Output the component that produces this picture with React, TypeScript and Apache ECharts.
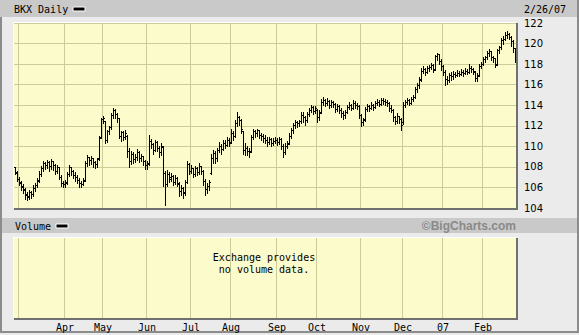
import React, { useEffect, useRef } from "react";
import * as echarts from "echarts";

// ---- Data (BKX daily OHLC, Feb 27 2006 .. Feb 26 2007) ----
const opens = [
  107.9,107.4,106.8,106.4,106.1,105.8,105.2,105.1,105.5,105.3,
  105.9,106.2,106.7,107.3,107.8,108.3,108.1,108.4,108.0,108.5,
  108.1,107.6,107.9,107.0,106.4,106.3,106.5,107.3,107.9,107.6,
  107.2,107.0,106.7,106.4,106.3,106.7,108.3,108.9,108.6,108.8,
  108.4,108.2,108.8,110.9,112.6,112.4,110.6,111.4,111.8,113.0,
  113.5,113.1,112.7,111.0,111.3,110.9,111.0,109.5,108.5,109.2,
  108.7,108.9,109.4,108.8,109.0,108.5,108.1,108.3,110.5,110.2,
  109.6,110.4,109.8,109.4,109.9,107.4,106.3,107.3,107.0,107.1,
  106.5,106.9,106.3,105.6,105.9,105.5,106.5,108.2,107.6,107.8,
  107.3,107.8,107.5,108.0,107.6,106.6,105.8,106.1,107.4,108.8,
  109.3,108.8,109.6,110.0,109.7,110.3,110.1,110.6,110.4,111.2,
  111.0,112.2,112.8,112.5,111.4,109.6,109.8,109.5,109.5,110.9,
  111.4,111.2,111.5,111.1,111.0,110.8,110.6,110.4,110.7,110.3,
  110.5,110.6,110.4,110.7,110.0,109.4,110.0,110.3,111.0,111.5,
  112.0,112.3,112.2,112.4,113.0,112.8,112.5,113.1,113.5,113.8,
  113.4,113.5,112.8,113.3,114.3,114.5,114.2,114.4,114.0,114.3,
  114.1,113.6,113.9,113.5,113.2,113.0,113.3,113.8,114.0,113.7,
  114.2,114.0,113.9,113.0,112.3,112.6,113.6,113.9,113.7,114.0,
  113.8,114.2,114.3,114.1,114.5,114.4,114.3,114.2,113.7,113.5,
  112.8,112.4,112.9,112.6,112.3,114.0,114.3,114.5,114.2,114.6,
  114.8,115.5,115.9,116.5,117.3,117.5,117.2,117.6,117.7,117.9,
  117.5,118.7,118.9,118.3,117.8,117.2,116.5,116.4,116.9,116.8,
  117.0,116.9,117.1,117.0,117.2,117.1,117.3,117.2,117.6,117.5,
  117.2,116.6,116.9,117.8,118.0,118.4,118.6,119.0,119.2,118.6,
  118.5,118.0,119.3,119.6,120.3,120.4,120.8,120.9,120.6,120.2,
  119.5,
];
const highs = [
  108.0,107.6,107.0,106.6,106.3,105.9,105.6,105.8,105.7,106.2,
  106.4,106.9,107.6,108.1,108.6,108.5,108.7,108.6,108.8,108.6,
  108.3,108.2,108.0,107.2,106.6,106.7,107.5,108.2,108.0,107.7,
  107.5,107.2,106.9,106.6,106.9,108.6,109.2,109.0,109.1,108.9,
  108.6,108.9,111.0,112.8,113.0,112.5,111.6,112.0,113.2,113.7,
  113.6,113.2,112.8,111.5,111.5,111.6,111.1,109.8,109.5,109.4,
  109.3,109.7,109.5,109.3,109.1,108.7,108.6,111.1,110.7,110.3,
  110.6,110.5,110.0,110.3,110.0,107.6,107.7,107.5,107.4,107.2,
  107.2,107.0,106.5,106.2,106.0,106.7,108.6,108.4,108.2,107.9,
  108.1,108.0,108.4,108.1,107.7,106.8,106.4,106.7,109.3,109.6,
  109.5,109.8,110.4,110.2,110.6,110.6,110.9,110.8,111.7,111.5,
  112.6,113.3,113.0,112.7,111.5,110.3,110.0,109.8,111.1,111.7,
  111.6,111.7,111.6,111.3,111.2,111.1,110.9,110.9,110.8,110.8,
  110.9,110.8,110.9,110.8,110.2,110.3,110.5,111.3,111.8,112.3,
  112.6,112.5,112.6,113.3,113.3,113.0,113.3,113.7,114.0,113.9,
  113.9,113.6,113.5,114.6,114.8,114.6,114.7,114.5,114.5,114.4,
  114.2,114.1,114.0,113.7,113.4,113.5,114.0,114.3,114.1,114.5,
  114.4,114.2,114.0,113.1,112.8,113.8,114.1,114.0,114.3,114.1,
  114.4,114.6,114.5,114.7,114.7,114.6,114.5,114.3,114.0,113.6,
  113.0,113.2,113.0,112.8,114.3,114.5,114.7,114.6,114.8,115.0,
  115.8,116.2,116.7,117.6,117.8,117.6,117.8,117.9,118.1,118.0,
  118.9,119.1,119.0,118.5,117.9,117.4,116.8,117.1,117.2,117.3,
  117.2,117.4,117.3,117.5,117.4,117.6,117.5,118.0,117.8,117.6,
  117.3,117.1,118.0,118.2,118.7,118.8,119.3,119.5,119.3,118.8,
  118.6,119.5,119.8,120.5,120.7,121.1,121.2,121.0,120.7,120.3,
  119.6,
];
const lows = [
  107.3,106.6,106.2,105.8,105.5,104.9,104.8,104.9,105.0,105.2,
  105.7,106.0,106.5,107.1,107.6,107.8,107.9,107.6,107.8,107.7,
  107.3,107.4,106.8,106.1,106.0,106.0,106.3,107.1,107.2,106.9,
  106.6,106.4,106.0,106.0,106.2,106.6,108.1,108.2,108.3,108.0,
  107.9,108.0,108.7,110.8,112.3,110.3,110.4,111.2,111.7,112.8,
  112.8,112.4,110.8,110.5,110.6,110.7,109.0,108.0,108.3,108.4,
  108.5,108.7,108.5,108.6,108.2,107.8,107.8,108.2,109.8,109.3,
  109.5,109.5,109.0,109.2,106.1,104.3,106.1,106.5,106.6,106.2,
  106.3,106.1,105.2,105.3,105.0,105.3,106.4,107.3,107.4,107.0,
  107.1,107.2,107.3,107.3,106.2,105.3,105.5,105.8,107.3,108.4,
  108.4,108.6,109.4,109.3,109.6,109.8,110.0,110.0,110.3,110.6,
  110.9,112.0,112.1,111.3,109.3,109.2,109.2,109.0,109.4,110.7,
  110.9,111.0,110.8,110.6,110.4,110.3,110.0,110.2,110.0,110.1,
  110.3,110.1,110.2,109.7,109.0,109.3,109.8,110.2,110.8,111.3,
  111.8,111.9,112.0,112.3,112.4,112.1,112.4,113.0,113.3,113.1,
  113.2,112.4,112.6,113.2,114.0,113.9,114.0,113.7,113.8,113.8,
  113.3,113.4,113.2,112.9,112.7,112.8,113.2,113.6,113.5,113.6,
  113.7,113.6,112.8,112.0,112.1,112.5,113.4,113.4,113.6,113.5,
  113.7,114.0,113.9,114.0,114.1,114.0,113.9,113.4,113.3,112.5,
  112.2,112.3,112.3,111.6,112.2,113.8,114.1,114.0,114.1,114.4,
  114.7,115.3,115.7,116.4,117.1,116.9,117.1,117.3,117.5,117.2,
  117.4,118.4,118.0,117.4,116.9,116.0,116.1,116.3,116.5,116.6,
  116.7,116.8,116.8,116.9,116.8,117.0,117.0,117.1,117.2,117.0,
  116.4,116.4,116.8,117.6,117.9,118.2,118.5,118.8,118.4,118.2,
  117.7,117.9,119.1,119.5,120.0,120.3,120.5,120.4,119.8,119.2,
  118.2,
];
const closes = [
  107.5,106.8,106.5,106.0,105.7,105.3,105.0,105.5,105.3,105.9,
  106.2,106.6,107.3,107.8,108.3,108.1,108.4,108.0,108.5,108.1,
  107.6,107.9,107.0,106.4,106.3,106.4,107.3,107.9,107.6,107.2,
  107.0,106.7,106.4,106.3,106.6,108.3,108.9,108.6,108.8,108.4,
  108.2,108.7,110.8,112.6,112.7,110.6,111.4,111.8,113.0,113.5,
  113.1,112.7,111.0,111.3,110.9,111.2,109.5,108.5,109.2,108.7,
  108.9,109.4,108.8,109.0,108.5,108.1,108.2,110.5,110.2,109.6,
  110.4,109.8,109.4,110.0,107.4,106.3,107.3,106.8,107.1,106.5,
  106.9,106.4,105.6,105.9,105.4,106.5,108.2,107.6,107.8,107.3,
  107.8,107.5,108.0,107.6,106.6,105.8,106.1,106.5,108.8,109.3,
  108.8,109.6,110.0,109.7,110.3,110.1,110.6,110.3,111.2,111.0,
  112.2,112.8,112.5,111.6,109.6,109.8,109.5,109.4,110.9,111.4,
  111.2,111.5,111.1,111.0,110.8,110.6,110.4,110.7,110.3,110.5,
  110.6,110.4,110.7,110.0,109.4,110.0,110.2,111.0,111.5,112.0,
  112.3,112.2,112.4,113.0,112.8,112.5,113.1,113.5,113.8,113.4,
  113.7,112.8,113.2,114.3,114.5,114.2,114.4,114.0,114.3,114.1,
  113.6,113.9,113.5,113.2,113.0,113.3,113.8,114.0,113.7,114.2,
  114.0,113.9,113.0,112.3,112.5,113.6,113.9,113.7,114.0,113.8,
  114.2,114.3,114.1,114.5,114.4,114.3,114.2,113.7,113.5,112.8,
  112.4,112.9,112.6,112.0,114.0,114.3,114.5,114.2,114.6,114.8,
  115.5,115.9,116.4,117.3,117.5,117.2,117.6,117.7,117.9,117.4,
  118.7,118.9,118.3,117.8,117.2,116.5,116.4,116.9,116.8,117.0,
  116.9,117.1,117.0,117.2,117.1,117.3,117.2,117.6,117.5,117.3,
  116.6,116.8,117.8,118.0,118.4,118.6,119.0,119.2,118.6,118.5,
  117.9,119.3,119.6,120.3,120.4,120.8,120.9,120.6,120.2,119.5,
  118.4,
];

// trading calendar
const firstDay = "2006-02-27";
const lastDay = "2007-02-26";
const holidays = [
  "2006-04-14", "2006-05-29", "2006-07-04", "2006-09-04", "2006-11-23",
  "2006-12-25", "2007-01-01", "2007-01-02", "2007-01-15", "2007-02-19",
];
const monthKeys = ["2006-03","2006-04","2006-05","2006-06","2006-07","2006-08","2006-09","2006-10","2006-11","2006-12","2007-01","2007-02"];
const monthLabels = ["", "Apr", "May", "Jun", "Jul", "Aug", "Sep", "Oct", "Nov", "Dec", "07", "Feb"];

// price axis
const priceMin = 104;
const priceMax = 122;
const priceStep = 2;

const headerTitle = "BKX Daily";
const headerDate = "2/26/07";
const volumeTitle = "Volume";
const noVolumeLines = ["Exchange provides", "no volume data."];
const credit = "\u00a9BigCharts.com";

function tradingDays(): string[] {
  const out: string[] = [];
  const d = new Date(firstDay + "T00:00:00Z");
  const end = new Date(lastDay + "T00:00:00Z");
  while (d.getTime() <= end.getTime()) {
    const s = d.toISOString().slice(0, 10);
    const wd = d.getUTCDay();
    if (wd !== 0 && wd !== 6 && holidays.indexOf(s) < 0) out.push(s);
    d.setUTCDate(d.getUTCDate() + 1);
  }
  return out;
}

const mono = "'DejaVu Sans Mono', monospace";
const grid0 = { left: 14, top: 23, width: 502, height: 185 };
const grid1 = { left: 14, top: 238, width: 502, height: 80 };
const GRID_COLOR = "#cccc99";
const PLOT_BG = "#fbfbcc";

export default function App() {
  const ref = useRef<HTMLDivElement>(null);
  useEffect(() => {
    if (!ref.current) return;
    const chart = echarts.init(ref.current, null, { renderer: "svg" });
    const days = tradingDays();
    const isMonthStart = (i: number) =>
      i > 0 && i < days.length && days[i].slice(0, 7) !== days[i - 1].slice(0, 7);
    const labelFor = (v: string) => {
      const k = monthKeys.indexOf(String(v).slice(0, 7));
      return k >= 0 ? monthLabels[k] : "";
    };
    const data = days.map((_, i) => [i, opens[i], highs[i], lows[i], closes[i]]);

    const bevel = (g: { left: number; top: number; width: number; height: number }) => {
      const r = g.left + g.width;
      const b = g.top + g.height;
      return [
        { type: "rect", z: -5, shape: { x: g.left, y: g.top, width: g.width, height: g.height }, style: { fill: PLOT_BG } },
        { type: "line", z: 50, shape: { x1: g.left - 0.5, y1: g.top - 0.5, x2: r, y2: g.top - 0.5 }, style: { stroke: "#ffffff", lineWidth: 1 } },
        { type: "line", z: 50, shape: { x1: g.left - 0.5, y1: g.top - 0.5, x2: g.left - 0.5, y2: b }, style: { stroke: "#ffffff", lineWidth: 1 } },
        { type: "rect", z: 50, shape: { x: g.left, y: b, width: g.width + 2, height: 2 }, style: { fill: "#707070" } },
        { type: "rect", z: 50, shape: { x: r, y: g.top, width: 2, height: g.height + 2 }, style: { fill: "#707070" } },
      ];
    };

    const option: any = {
      animation: false,
      backgroundColor: "#ebebeb",
      grid: [
        { ...grid0, containLabel: false },
        { ...grid1, containLabel: false },
      ],
      xAxis: [
        {
          type: "category", gridIndex: 0, data: days, boundaryGap: true,
          axisLine: { show: false }, axisTick: { show: false }, axisLabel: { show: false },
          splitLine: { show: true, interval: (i: number) => isMonthStart(i), lineStyle: { color: GRID_COLOR, width: 1 } },
        },
        {
          type: "category", gridIndex: 1, data: days, boundaryGap: true,
          axisLine: { show: false }, axisTick: { show: false },
          axisLabel: {
            show: true, interval: (i: number) => isMonthStart(i) && labelFor(days[i]) !== "",
            formatter: (v: string) => labelFor(v), color: "#000", fontFamily: mono, fontSize: 10, margin: 4,
          },
          splitLine: { show: true, interval: (i: number) => isMonthStart(i), lineStyle: { color: GRID_COLOR, width: 1 } },
        },
      ],
      yAxis: [
        {
          type: "value", gridIndex: 0, position: "right", min: priceMin, max: priceMax, interval: priceStep,
          axisLine: { show: false }, axisTick: { show: false },
          axisLabel: { color: "#000", fontFamily: "'DejaVu Sans', sans-serif", fontSize: 10, margin: 8 },
          splitLine: { show: true, lineStyle: { color: GRID_COLOR, width: 1 } },
        },
        {
          type: "value", gridIndex: 1, min: 0, max: 1, show: false, splitLine: { show: false },
        },
      ],
      series: [
        {
          type: "custom", xAxisIndex: 0, yAxisIndex: 0, silent: true,
          encode: { x: 0, y: [1, 2, 3, 4] },
          data,
          renderItem: (_params: any, api: any) => {
            const idx = api.value(0);
            const pO = api.coord([idx, api.value(1)]);
            const yH = api.coord([idx, api.value(2)])[1];
            const yL = api.coord([idx, api.value(3)])[1];
            const yC = api.coord([idx, api.value(4)])[1];
            const px = Math.round(pO[0] - 0.5);
            const vx = px + 0.5;
            const ry = (y: number) => Math.round(y - 0.5) + 0.5;
            const st = { stroke: "#000", lineWidth: 1 };
            return {
              type: "group",
              children: [
                { type: "line", shape: { x1: vx, y1: Math.round(yH), x2: vx, y2: Math.round(yL) + 1 }, style: st },
                { type: "line", shape: { x1: px - 1, y1: ry(pO[1]), x2: px, y2: ry(pO[1]) }, style: st },
                { type: "line", shape: { x1: px + 1, y1: ry(yC), x2: px + 2, y2: ry(yC) }, style: st },
              ],
            };
          },
        },
      ],
      graphic: [
        // header bars and frame
        { type: "rect", z: -5, shape: { x: 0, y: 0, width: 577, height: 17 }, style: { fill: "#c9c9c9" } },
        { type: "rect", z: -5, shape: { x: 2, y: 218, width: 575, height: 15 }, style: { fill: "#c9c9c9" } },
        { type: "rect", z: -4, shape: { x: 0, y: 17, width: 2, height: 316 }, style: { fill: "#8c8c8c" } },
        { type: "rect", z: -4, shape: { x: 577, y: 0, width: 2, height: 333 }, style: { fill: "#8c8c8c" } },
        { type: "rect", z: -4, shape: { x: 0, y: 331, width: 579, height: 2 }, style: { fill: "#8c8c8c" } },
        ...bevel(grid0),
        ...bevel(grid1),
        // header texts
        { type: "text", z: 60, x: 14, y: 9, style: { text: headerTitle, font: `10px ${mono}`, fill: "#000", textVerticalAlign: "middle" } },
        { type: "rect", z: 60, shape: { x: 73, y: 7, width: 12, height: 4 }, style: { fill: "#000", stroke: "#fff", lineWidth: 1 } },
        { type: "text", z: 60, x: 524, y: 9, style: { text: headerDate, font: `10px ${mono}`, fill: "#000", textVerticalAlign: "middle" } },
        { type: "text", z: 60, x: 15, y: 226, style: { text: volumeTitle, font: `10px ${mono}`, fill: "#000", textVerticalAlign: "middle" } },
        { type: "rect", z: 60, shape: { x: 56, y: 224, width: 12, height: 4 }, style: { fill: "#000", stroke: "#fff", lineWidth: 1 } },
        { type: "text", z: 60, x: 516, y: 226, style: { text: credit, font: "bold 12px 'Liberation Sans', sans-serif", fill: "#8a8a8a", textAlign: "right", textVerticalAlign: "middle" } },
        { type: "text", z: 60, x: 264, y: 257, style: { text: noVolumeLines[0], font: `10px ${mono}`, fill: "#000", textAlign: "center", textVerticalAlign: "middle" } },
        { type: "text", z: 60, x: 264, y: 269, style: { text: noVolumeLines[1], font: `10px ${mono}`, fill: "#000", textAlign: "center", textVerticalAlign: "middle" } },
      ],
    };
    chart.setOption(option);
    return () => chart.dispose();
  }, []);
  return <div ref={ref} style={{ position: "absolute", left: 0, top: 0, width: 579, height: 335 }} />;
}
